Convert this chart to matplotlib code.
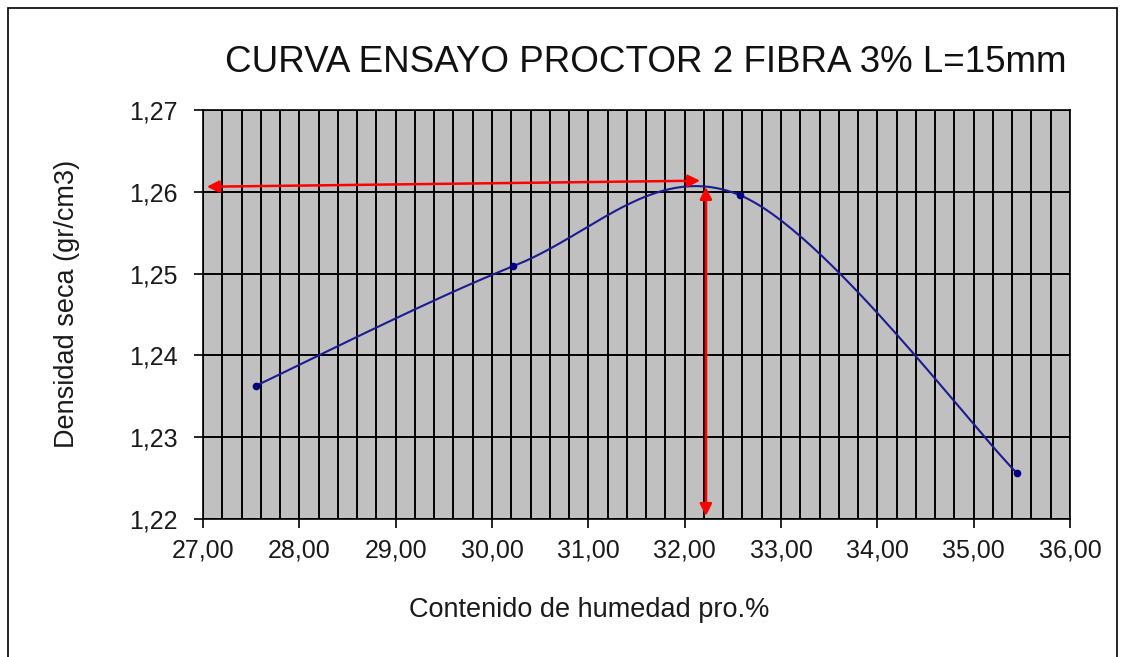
import numpy as np
import matplotlib
matplotlib.use("Agg")
import matplotlib.pyplot as plt
from matplotlib.patches import Rectangle
from matplotlib.ticker import MultipleLocator, FuncFormatter

plt.rcParams['font.family'] = ['Liberation Sans', 'DejaVu Sans']

humedad = [27.55, 30.22, 32.57, 35.45]
densidad = [1.2363, 1.2509, 1.2596, 1.2256]
opt_humedad = 32.2
opt_densidad = 1.2610

title = "CURVA ENSAYO PROCTOR 2 FIBRA 3% L=15mm"
xlabel = "Contenido de humedad pro.%"
ylabel = "Densidad seca (gr/cm3)"


def excel_smooth(xs, ys, n=60):
    P = np.column_stack([xs, ys]).astype(float)
    out = []
    m = len(P)
    for i in range(m - 1):
        p0 = P[i - 1] if i > 0 else P[i]
        p1 = P[i]
        p2 = P[i + 1]
        p3 = P[i + 2] if i + 2 < m else P[i + 1]
        c1 = p1 + (p2 - p0) / 6.0
        c2 = p2 - (p3 - p1) / 6.0
        t = np.linspace(0, 1, n)[:, None]
        seg = ((1 - t) ** 3) * p1 + 3 * ((1 - t) ** 2) * t * c1 + 3 * (1 - t) * t ** 2 * c2 + t ** 3 * p2
        out.append(seg if i == 0 else seg[1:])
    out = np.vstack(out)
    return out[:, 0], out[:, 1]


fig = plt.figure(figsize=(11.21, 6.57), dpi=100)
fig.patches.append(Rectangle((8 / 1121, -0.05), (1117 - 8) / 1121, 1 - 8 / 657 + 0.05,
                             transform=fig.transFigure, fill=False, edgecolor='black', linewidth=1.2))

ax = fig.add_axes([203 / 1121, 1 - 519 / 657, (1070 - 203) / 1121, (519 - 110) / 657])
ax.set_facecolor('#C0C0C0')
ax.set_xlim(27, 36)
ax.set_ylim(1.22, 1.27)

ax.xaxis.set_major_locator(MultipleLocator(1))
ax.xaxis.set_minor_locator(MultipleLocator(0.2))
ax.yaxis.set_major_locator(MultipleLocator(0.01))
ax.xaxis.set_major_formatter(FuncFormatter(lambda v, p: f"{v:.2f}".replace('.', ',')))
ax.yaxis.set_major_formatter(FuncFormatter(lambda v, p: f"{v:.2f}".replace('.', ',')))

ax.grid(which='both', axis='x', color='black', linewidth=1.4)
ax.grid(which='major', axis='y', color='black', linewidth=1.4)
ax.set_axisbelow(True)
ax.tick_params(axis='both', which='major', direction='out', length=6.5, width=1.2, color='black',
               labelsize=18)
ax.tick_params(axis='x', which='major', pad=7.5)
ax.tick_params(axis='y', which='major', pad=11.5)
ax.tick_params(axis='x', which='minor', length=0)
for lab in ax.get_xticklabels() + ax.get_yticklabels():
    lab.set_color('#1a1a1a')
for s in ax.spines.values():
    s.set_color('black')
    s.set_linewidth(1.2)

sx, sy = excel_smooth(humedad, densidad)
ax.plot(sx, sy, color='#1c1c90', linewidth=1.5, zorder=3)
ax.plot(humedad, densidad, 'o', color='#000080', markersize=4.5, zorder=4)

arrow_kw = dict(arrowstyle='<|-|>', color='#ff0000', lw=1.8, mutation_scale=18, shrinkA=0, shrinkB=0)
ax.annotate('', xy=(27.04, 1.26062), xytext=(32.16, 1.26136), arrowprops=arrow_kw, zorder=5)
ax.annotate('', xy=(opt_humedad + 0.02, 1.22037), xytext=(opt_humedad + 0.02, 1.26059),
            arrowprops=arrow_kw, zorder=5)

fig.text(646 / 1121, 1 - 62 / 657, title, ha='center', va='center', fontsize=26.5, color='#111111')
fig.text(589 / 1121, 1 - 610 / 657, xlabel, ha='center', va='center', fontsize=19.5, color='#1a1a1a')
fig.text(67 / 1121, 1 - 304 / 657, ylabel, ha='center', va='center', fontsize=19.5, rotation=90,
         color='#1a1a1a')

fig.savefig('out.png', dpi=100)
